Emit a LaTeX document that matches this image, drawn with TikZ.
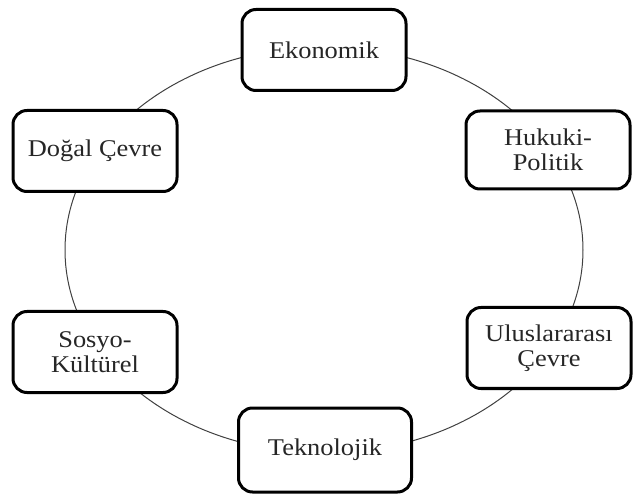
\documentclass[tikz,border=0pt]{standalone}
\usepackage{fontspec}
\setmainfont{Liberation Serif}[FakeStretch=1.1]
\usepackage{xcolor}
\colorlet{colRing}{black!75}
\colorlet{colText}{black!85}

\begin{document}
\begin{tikzpicture}[x=1pt, y=-1pt,
    factor/.style={draw, line width=3pt, rounded corners=14pt, fill=white,
      minimum width=164pt, minimum height=81pt, align=center, text=colText,
      font=\fontsize{24}{25}\selectfont}]
  \useasboundingbox (0,0) rectangle (633,500);
  \coordinate (ctr) at (324,250);
  \draw[colRing, line width=1pt] (ctr) ellipse [x radius=259, y radius=203];
  \node[factor] (eko) at (324,50) {Ekonomik};
  \node[factor] (hukuk) at (548,150) [minimum height=78pt] {Hukuki-\\Politik};
  \node[factor] (ulus) at (549,348) {Uluslararası\\Çevre};
  \node[factor] (tekno) at (325,450) [minimum width=173pt, minimum height=84pt] {Teknolojik};
  \node[factor] (sosyo) at (95,352) {Sosyo-\\Kültürel};
  \node[factor] (dogal) at (95,151) {Doğal Çevre};
\end{tikzpicture}
\end{document}
